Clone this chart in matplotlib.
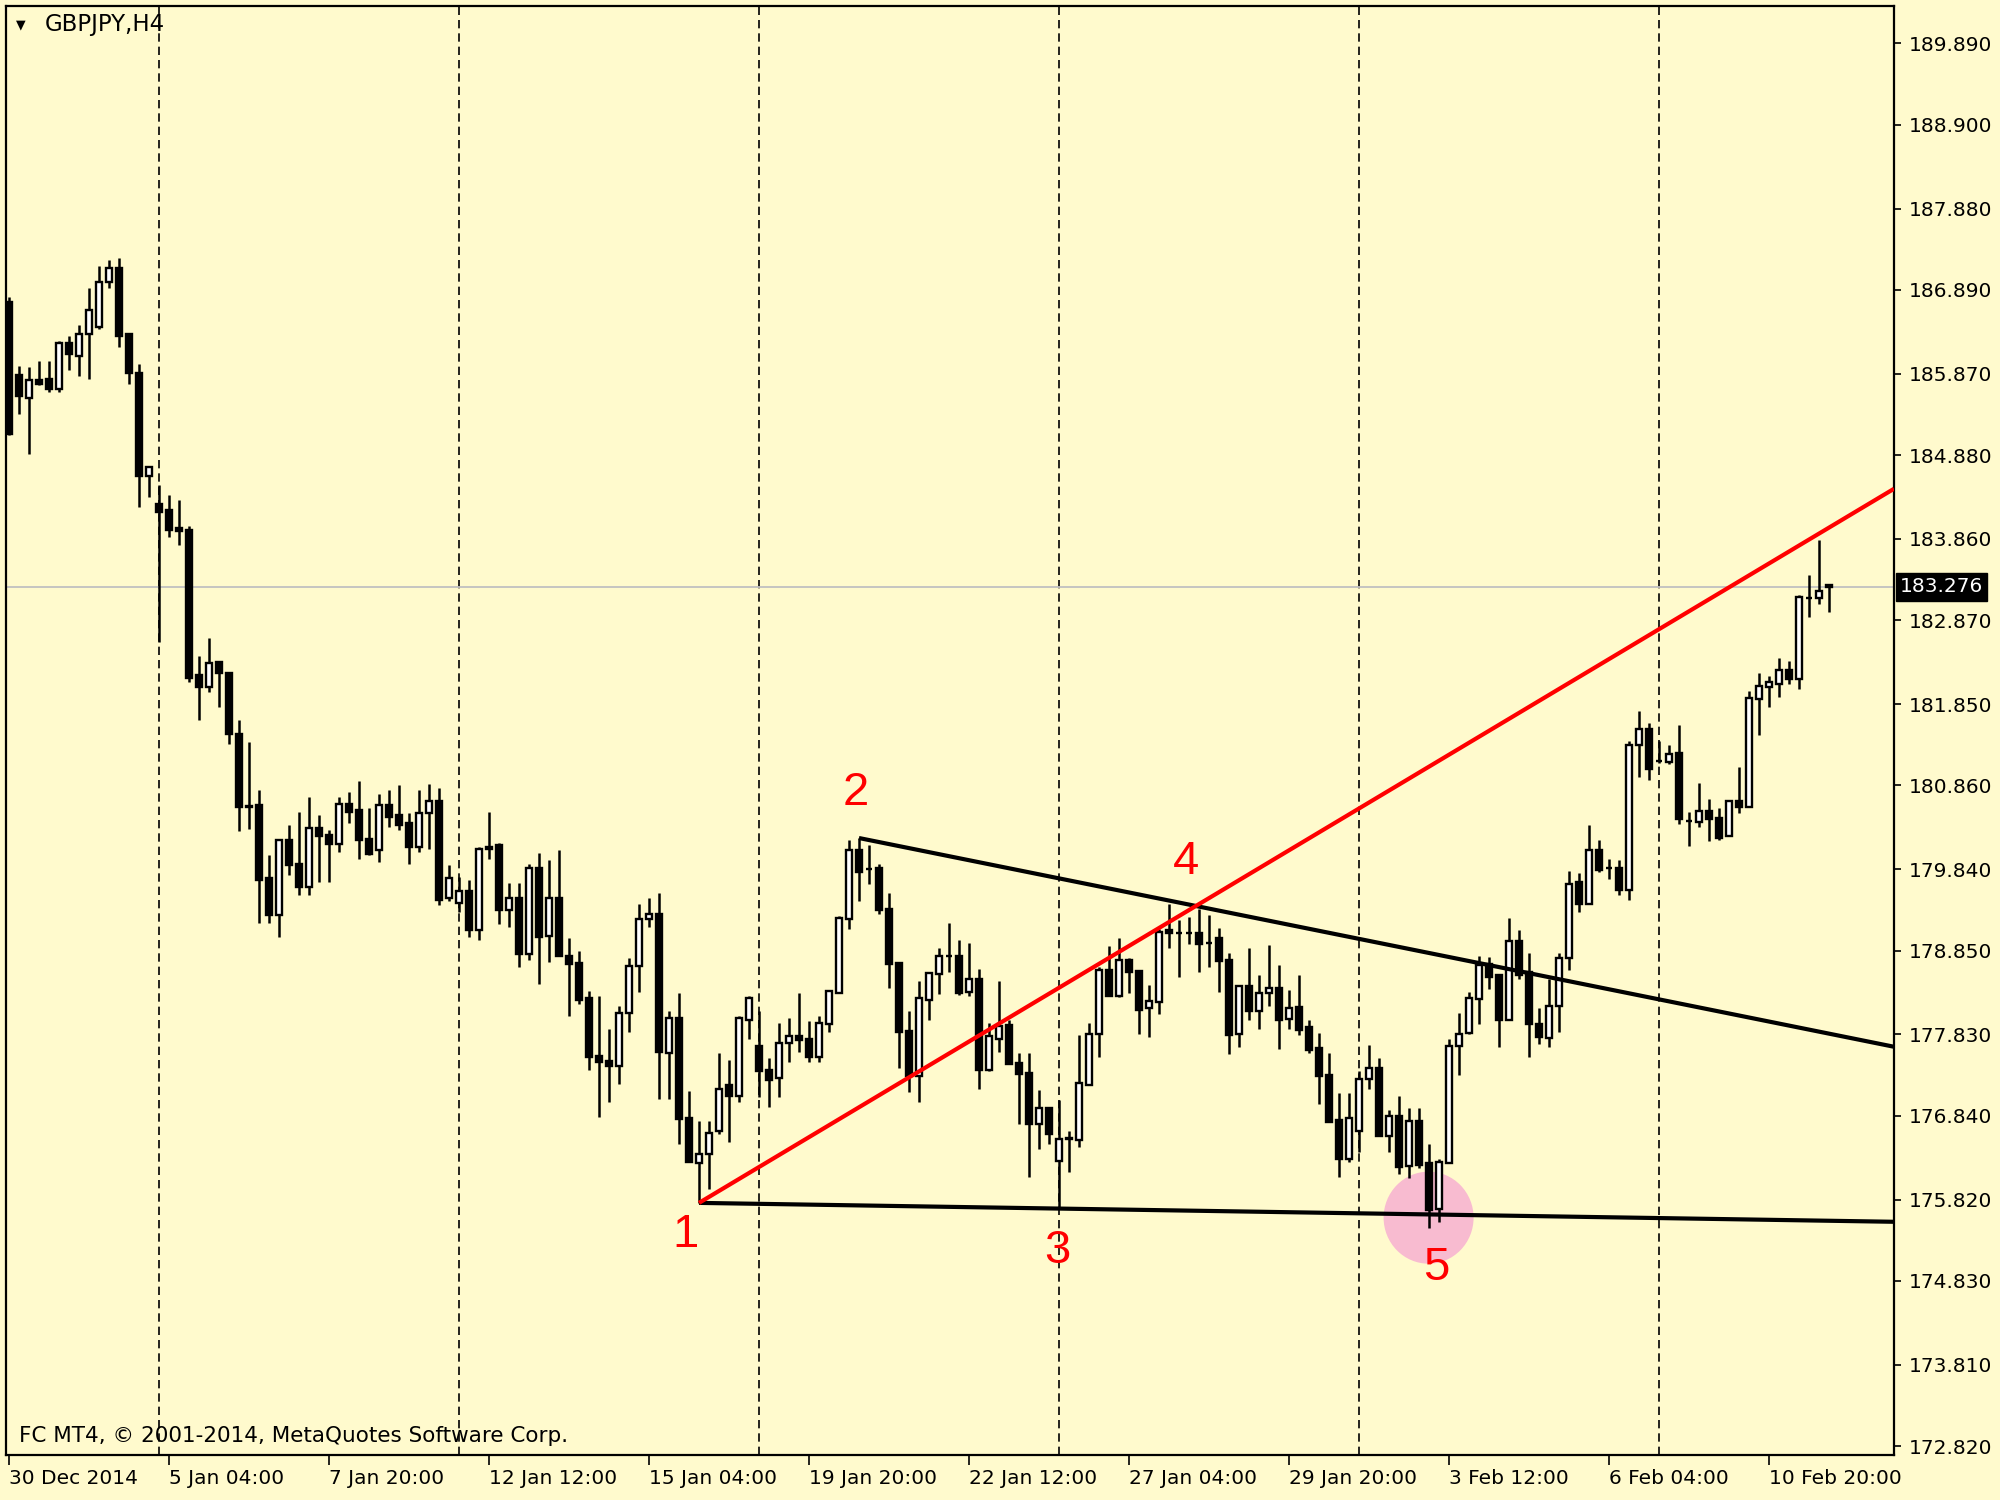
import numpy as np
import matplotlib.pyplot as plt
from matplotlib.patches import Ellipse

# GBPJPY H4 candles (open, high, low, close), one row per bar
opens = [186.74, 185.86, 185.57, 185.79, 185.81, 185.68, 186.24, 186.08, 186.35, 186.44,
         186.99, 187.16, 186.35, 185.88, 184.62, 184.29, 184.21, 183.99, 183.97, 182.20,
         182.06, 182.36, 182.23, 181.49, 180.61, 180.62, 179.73, 179.28, 180.19, 179.91,
         179.63, 180.34, 180.26, 180.15, 180.64, 180.56, 180.21, 180.07, 180.62, 180.50,
         180.40, 180.11, 180.52, 180.67, 179.49, 179.43, 179.58, 179.10, 180.11, 180.135,
         179.35, 179.49, 178.81, 179.85, 179.03, 179.49, 178.78, 178.70, 178.27, 177.57,
         177.51, 177.44, 178.09, 178.66, 179.24, 179.30, 177.60, 178.03, 176.81, 176.26,
         176.37, 176.65, 177.21, 177.08, 178.01, 177.69, 177.40, 177.30, 177.72, 177.81,
         177.78, 177.56, 177.96, 178.34, 179.23, 180.07, 179.84, 179.85, 179.36, 178.70,
         177.87, 177.32, 178.25, 178.57, 178.78, 178.78, 178.35, 178.51, 177.40, 177.78,
         177.94, 177.48, 177.36, 176.74, 176.94, 176.29, 176.56, 176.55, 177.21, 177.84,
         178.61, 178.30, 178.74, 178.60, 178.15, 178.23, 179.10, 179.06, 179.06, 179.06,
         178.94, 179.00, 178.73, 177.83, 178.42, 178.11, 178.33, 178.39, 178.02, 178.16,
         177.92, 177.66, 177.34, 176.79, 176.31, 176.65, 177.29, 177.42, 176.59, 176.84,
         176.23, 176.78, 176.26, 175.71, 176.27, 177.69, 177.85, 178.26, 178.69, 178.55,
         178.01, 178.97, 178.59, 177.96, 177.79, 178.18, 178.76, 179.68, 179.42, 180.07,
         179.85, 179.85, 179.59, 181.35, 181.55, 181.16, 181.14, 181.26, 180.43, 180.42,
         180.55, 180.46, 180.24, 180.67, 180.60, 181.91, 182.06, 182.09, 182.26, 182.15,
         183.14, 183.14, 183.30]
highs = [186.80, 185.97, 185.95, 186.03, 186.03, 186.27, 186.33, 186.46, 186.91, 187.18,
         187.25, 187.28, 186.35, 185.99, 184.75, 184.51, 184.39, 184.33, 184.02, 182.44,
         182.66, 182.36, 182.23, 181.66, 181.39, 180.80, 180.01, 180.19, 180.38, 180.54,
         180.72, 180.50, 180.32, 180.72, 180.78, 180.91, 180.58, 180.76, 180.80, 180.86,
         180.52, 180.80, 180.88, 180.83, 179.89, 179.75, 179.71, 180.11, 180.54, 180.16,
         179.67, 179.67, 179.91, 180.04, 179.95, 180.07, 179.00, 178.85, 178.36, 178.30,
         177.90, 178.18, 178.76, 179.42, 179.49, 179.55, 178.12, 178.34, 177.14, 176.78,
         176.78, 177.61, 177.52, 178.05, 178.30, 178.12, 177.54, 177.97, 178.03, 178.33,
         177.99, 178.05, 178.36, 179.27, 180.19, 180.22, 180.13, 179.91, 179.55, 178.70,
         178.12, 178.48, 178.59, 178.88, 179.18, 178.98, 178.94, 178.63, 177.97, 178.48,
         178.00, 177.61, 177.61, 177.15, 176.94, 177.03, 176.66, 177.82, 177.97, 178.65,
         178.91, 179.00, 178.76, 178.60, 178.43, 179.11, 179.42, 179.22, 179.26, 179.36,
         179.28, 179.12, 178.82, 178.42, 178.88, 178.55, 178.92, 178.67, 178.37, 178.55,
         178.00, 177.85, 177.61, 177.12, 177.12, 177.39, 177.70, 177.54, 176.91, 177.08,
         176.93, 176.93, 176.50, 176.32, 177.78, 178.09, 178.35, 178.78, 178.77, 178.55,
         179.25, 179.10, 178.82, 178.15, 178.51, 178.82, 179.82, 179.80, 180.38, 180.20,
         179.97, 179.95, 181.40, 181.77, 181.62, 181.40, 181.35, 181.60, 180.54, 180.89,
         180.70, 180.58, 180.67, 181.08, 182.01, 182.23, 182.19, 182.41, 182.38, 183.18,
         183.42, 183.85, 183.31]
lows = [185.12, 185.38, 184.89, 185.73, 185.65, 185.65, 185.92, 185.84, 185.80, 186.41,
        186.91, 186.19, 185.75, 184.25, 184.37, 182.61, 183.88, 183.79, 182.12, 181.66,
        182.00, 181.82, 181.36, 180.30, 180.33, 179.18, 179.18, 179.02, 179.77, 179.53,
        179.53, 179.69, 179.69, 180.05, 180.40, 179.96, 180.01, 179.93, 180.36, 180.32,
        179.91, 180.05, 180.09, 179.40, 179.45, 179.32, 179.02, 178.98, 179.97, 179.17,
        179.14, 178.65, 178.74, 178.44, 178.71, 178.78, 178.05, 178.20, 177.40, 176.83,
        177.01, 177.23, 177.86, 178.35, 179.14, 177.04, 177.04, 176.50, 176.28, 175.78,
        175.95, 176.62, 176.52, 177.01, 177.77, 177.07, 176.95, 177.07, 177.50, 177.62,
        177.50, 177.50, 177.86, 178.33, 179.11, 179.45, 179.66, 179.30, 178.39, 177.42,
        177.13, 177.01, 178.01, 178.32, 178.59, 178.31, 178.30, 177.16, 177.38, 177.62,
        177.47, 176.74, 176.10, 176.43, 176.50, 175.73, 176.16, 176.46, 177.21, 177.56,
        178.30, 178.29, 178.33, 177.83, 177.80, 178.08, 178.88, 178.53, 178.93, 178.59,
        178.65, 178.35, 177.59, 177.68, 178.01, 177.89, 178.17, 177.65, 177.89, 177.82,
        177.61, 176.98, 176.77, 176.10, 176.28, 176.40, 177.16, 176.59, 176.40, 176.13,
        176.08, 176.20, 175.47, 175.55, 176.27, 177.34, 177.83, 177.96, 178.38, 177.68,
        178.01, 178.51, 177.56, 177.71, 177.68, 177.86, 178.62, 179.32, 179.42, 179.81,
        179.72, 179.53, 179.47, 180.96, 180.93, 181.13, 181.12, 180.39, 180.12, 180.36,
        180.18, 180.19, 180.24, 180.53, 180.60, 181.47, 181.81, 181.94, 182.09, 182.03,
        182.91, 183.07, 182.97]
closes = [185.14, 185.60, 185.79, 185.75, 185.68, 186.25, 186.11, 186.35, 186.65, 186.99,
          187.16, 186.33, 185.88, 184.62, 184.73, 184.19, 183.97, 183.96, 182.17, 182.06,
          182.35, 182.23, 181.49, 180.60, 180.60, 179.71, 179.28, 180.19, 179.89, 179.63,
          180.34, 180.24, 180.15, 180.64, 180.54, 180.20, 180.03, 180.62, 180.48, 180.38,
          180.11, 180.52, 180.67, 179.47, 179.73, 179.58, 179.10, 180.09, 180.09, 179.35,
          179.49, 178.81, 179.85, 179.02, 179.49, 178.78, 178.69, 178.25, 177.56, 177.50,
          177.44, 178.09, 178.66, 179.24, 179.30, 177.62, 178.03, 176.80, 176.28, 176.37,
          176.63, 177.17, 177.08, 178.03, 178.27, 177.38, 177.28, 177.72, 177.81, 177.76,
          177.55, 177.97, 178.36, 179.25, 180.07, 179.81, 179.84, 179.35, 178.69, 177.86,
          177.32, 178.27, 178.58, 178.78, 178.78, 178.34, 178.50, 177.40, 177.81, 177.93,
          177.47, 177.35, 176.74, 176.93, 176.62, 176.56, 176.57, 177.24, 177.84, 178.61,
          178.30, 178.73, 178.59, 178.13, 178.24, 179.08, 179.06, 179.06, 179.06, 178.93,
          178.94, 178.72, 177.82, 178.42, 178.11, 178.33, 178.39, 178.01, 178.15, 177.88,
          177.64, 177.32, 176.77, 176.31, 176.81, 177.29, 177.42, 176.59, 176.84, 176.22,
          176.78, 176.24, 175.69, 176.28, 177.69, 177.84, 178.27, 178.67, 178.53, 178.01,
          178.97, 178.55, 177.96, 177.80, 178.18, 178.76, 179.66, 179.42, 180.07, 179.83,
          179.85, 179.59, 181.35, 181.55, 181.06, 181.16, 181.24, 180.45, 180.43, 180.55,
          180.45, 180.22, 180.67, 180.60, 181.92, 182.07, 182.12, 182.26, 182.15, 183.15,
          183.14, 183.23, 183.276]

price_ticks = [189.890, 188.900, 187.880, 186.890, 185.870, 184.880, 183.860, 182.870, 181.850,
               180.860, 179.840, 178.850, 177.830, 176.840, 175.820, 174.830, 173.810, 172.820]
date_labels = ["30 Dec 2014", "5 Jan 04:00", "7 Jan 20:00", "12 Jan 12:00", "15 Jan 04:00",
               "19 Jan 20:00", "22 Jan 12:00", "27 Jan 04:00", "29 Jan 20:00", "3 Feb 12:00",
               "6 Feb 04:00", "10 Feb 20:00"]
week_starts = [15, 45, 75, 105, 135, 165]
last_price = 183.276

# drawn objects: trend lines (bar index, price) and wave labels
red_x, red_y = [69, 188.5], [175.78, 184.47]
upper_x, upper_y = [85, 188.5], [180.22, 177.68]
lower_x, lower_y = [69, 188.5], [175.78, 175.55]
wave_names = ["1", "2", "3", "4", "5"]
wave_x = [67.7, 84.7, 104.8, 117.7, 142.7]
wave_y = [175.39, 180.77, 175.20, 179.93, 174.99]

bg = "#fffacd"
o = np.array(opens); h = np.array(highs); l = np.array(lows); c = np.array(closes)
x = np.arange(len(o))

fig = plt.figure(figsize=(20, 15), dpi=100, facecolor=bg)
ax = fig.add_axes([6 / 2000, 45 / 1500, 1888 / 2000, 1449 / 1500])
ax.set_facecolor(bg)
ax.set_xlim(-0.3, 188.5)
ax.set_ylim(172.712, 190.345)

for ws in week_starts:
    ax.axvline(ws, color="black", lw=1.2, ls=(0, (5, 3)), zorder=1)
ax.axhline(last_price, color="#c0c0c0", lw=1.3, zorder=1)

ax.add_patch(Ellipse((141.96, 175.60), 9, 1.12, facecolor="#f8bbd0", edgecolor="none", zorder=2))

# candles
ax.vlines(x, l, h, color="black", lw=1.8, zorder=3)
bull = c >= o
ax.bar(x, np.abs(c - o), bottom=np.minimum(o, c), width=0.62,
       color=np.where(bull, "white", "black"), edgecolor="black", linewidth=1.7, zorder=4)

ax.plot(lower_x, lower_y, color="black", lw=3, zorder=5, solid_capstyle="butt")
ax.plot(upper_x, upper_y, color="black", lw=3, zorder=5, solid_capstyle="butt")
ax.plot(red_x, red_y, color="#ff0000", lw=3, zorder=6, solid_capstyle="butt")

for name, wx, wy in zip(wave_names, wave_x, wave_y):
    ax.text(wx, wy, name, color="#ff0000", fontsize=34, family="Liberation Sans",
            ha="center", va="center", zorder=7)

# axes like the terminal
ax.yaxis.tick_right()
ax.set_yticks(price_ticks)
ax.set_yticklabels([f"{p:.3f}" for p in price_ticks])
ax.set_xticks(np.arange(len(date_labels)) * 16)
ax.set_xticklabels(date_labels, ha="left")
ax.tick_params(axis="y", direction="out", length=5, width=1.2, pad=6, labelsize=14.5, colors="black")
ax.tick_params(axis="x", direction="out", length=7, width=1.2, pad=3, labelsize=14.5, colors="black")
for s in ax.spines.values():
    s.set_linewidth(1.6)

fig.text(21 / 2000, 1 - 25 / 1500, "\u25bc", fontsize=9, ha="center", va="center")
fig.text(45 / 2000, 1 - 25 / 1500, "GBPJPY,H4", fontsize=16.5, ha="left", va="center")
fig.text(19 / 2000, 1 - 1436 / 1500, "FC MT4, \u00a9 2001-2014, MetaQuotes Software Corp.",
         fontsize=15.5, ha="left", va="center")
fig.text(1900 / 2000, 1 - 587 / 1500, f"{last_price:.3f}", fontsize=14.5, color="white",
         ha="left", va="center",
         bbox=dict(boxstyle="square,pad=0.2", facecolor="black", edgecolor="black"))

fig.savefig("out.png", dpi=100, facecolor=bg)
